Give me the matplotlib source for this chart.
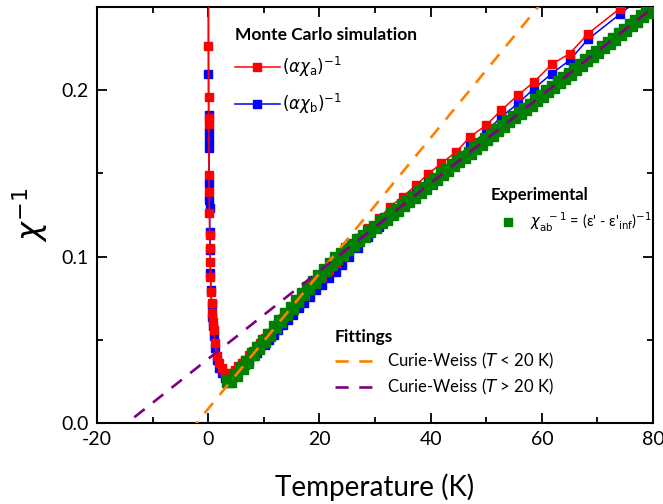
import matplotlib
matplotlib.use("Agg")
import matplotlib.pyplot as plt
import numpy as np
from matplotlib.ticker import MultipleLocator, FormatStrFormatter

plt.rcParams['font.family'] = ['Lato', 'DejaVu Sans']
plt.rcParams['mathtext.fontset'] = 'dejavusans'
plt.rcParams['axes.unicode_minus'] = False

# Monte Carlo temperatures (K), shared by both susceptibility components
t_mc = [0.02, 0.05, 0.07, 0.09, 0.11, 0.14, 0.17, 0.20, 0.25, 0.30, 0.35, 0.40,
        0.50, 0.60, 0.70, 0.85, 1.0, 1.2, 1.5, 1.9, 2.4, 3.0,
        3.6, 4.2, 4.8, 5.4, 6.0, 6.6, 7.3, 8.0, 8.7, 9.4, 10.2, 11.0, 11.8, 12.6,
        13.5, 14.4, 15.3, 16.3, 17.3, 18.3, 19.4, 20.5, 21.7, 22.9, 24.1, 25.4,
        26.9, 28.8, 30.7, 32.7, 35.0, 37.4, 39.5, 41.9, 44.6, 47.1, 50.0, 52.7,
        55.7, 58.6, 61.8, 65.0, 68.3, 74.0, 77.5]

inv_chi_a = [0.320, 0.2266, 0.196, 0.183, 0.1796, 0.149, 0.139, 0.126, 0.113, 0.105, 0.097, 0.0877,
             0.079, 0.072, 0.066, 0.061, 0.056, 0.048, 0.040, 0.036, 0.033, 0.030,
             0.028, 0.030, 0.032, 0.034, 0.036, 0.038, 0.041, 0.043, 0.046, 0.048, 0.051, 0.054, 0.057, 0.060,
             0.063, 0.066, 0.069, 0.073, 0.077, 0.080, 0.084, 0.088, 0.092, 0.096, 0.100, 0.105,
             0.111, 0.117, 0.123, 0.130, 0.136, 0.143, 0.1495, 0.156, 0.163, 0.172, 0.179, 0.188,
             0.197, 0.205, 0.2156, 0.222, 0.234, 0.249, 0.258]

inv_chi_b = [0.300, 0.210, 0.185, 0.175, 0.170, 0.165, 0.144, 0.134, 0.129, 0.115, 0.104, 0.090,
             0.080, 0.071, 0.064, 0.058, 0.052, 0.045, 0.038, 0.033, 0.030, 0.027,
             0.026, 0.027, 0.029, 0.031, 0.033, 0.035, 0.037, 0.040, 0.042, 0.045, 0.047, 0.050, 0.053, 0.056,
             0.059, 0.062, 0.065, 0.069, 0.072, 0.076, 0.080, 0.083, 0.087, 0.091, 0.095, 0.100,
             0.105, 0.112, 0.118, 0.125, 0.132, 0.139, 0.145, 0.152, 0.159, 0.167, 0.175, 0.184,
             0.192, 0.201, 0.210, 0.218, 0.2306, 0.2456, 0.255]

# dielectric data, chi_ab^-1 = (eps' - eps'_inf)^-1
t_exp = [3.6, 4, 5, 6, 7, 8, 9, 10, 11, 12, 13, 14, 15, 16, 17, 18, 19, 20,
         21, 22, 23, 24, 25, 26, 27, 28, 29, 30, 31, 32, 33, 34, 35, 36, 37, 38,
         39, 40, 41, 42, 43, 44, 45, 46, 47, 48, 49, 50, 51, 52, 53, 54, 55, 56,
         57, 58, 59, 60, 61, 62, 63, 64, 65, 66, 67, 68, 69, 70, 71, 72, 73, 74,
         75, 76, 77, 78, 79, 79.6]
inv_chi_exp = [0.025, 0.0255, 0.029, 0.0332, 0.0368, 0.0412, 0.0450, 0.0493, 0.0531, 0.0575, 0.0612, 0.0656,
               0.0694, 0.0735, 0.0776, 0.0812, 0.0850, 0.0885, 0.0920, 0.0955, 0.0990, 0.1018, 0.1046, 0.1070,
               0.1100, 0.1123, 0.1152, 0.1176, 0.1205, 0.1228, 0.1258, 0.1282, 0.1310, 0.1335, 0.1360, 0.1388,
               0.1414, 0.1442, 0.1466, 0.1495, 0.1520, 0.1548, 0.1572, 0.1600, 0.1625, 0.1653, 0.1678, 0.1706,
               0.1730, 0.1758, 0.1783, 0.1812, 0.1836, 0.1862, 0.1890, 0.1914, 0.1943, 0.1968, 0.1995, 0.2020,
               0.2048, 0.2073, 0.2100, 0.2126, 0.2152, 0.2180, 0.2205, 0.2232, 0.2257, 0.2285, 0.2310, 0.2338,
               0.2362, 0.2390, 0.2415, 0.2443, 0.2468, 0.2485]

# Curie-Weiss fits: chi^-1 = (T - theta) / C
theta_low, curie_low = -2.1, 245.7
theta_high, curie_high = -14.6, 378.8

fig = plt.figure(figsize=(6.63, 5.04), dpi=100)
ax = fig.add_axes([0.1463, 0.1607, 0.8387, 0.8254])

lb, = ax.plot(t_mc, inv_chi_b, '-s', color='#0000FF', lw=1.1, ms=6, zorder=2,
              label=r'$(\alpha\chi_{\rm b})^{-1}$')
la, = ax.plot(t_mc, inv_chi_a, '-s', color='#FF0000', lw=1.1, ms=6, zorder=3,
              label=r'$(\alpha\chi_{\rm a})^{-1}$')
le, = ax.plot(t_exp, inv_chi_exp, 's', color='#008000', ms=8, mec='#008000', zorder=4,
              label="$\\chi_{\\rm ab}^{\\ \\ -1}$ = (ε' - ε'$_{\\rm inf}$)$^{-1}$")

t_fit = np.array([-20.0, 80.0])
lo, = ax.plot(t_fit, (t_fit - theta_low) / curie_low, color='#FF8000', lw=1.9,
              dashes=(5, 4), zorder=5, label=r'Curie-Weiss ($T$ < 20 K)')
lp, = ax.plot(t_fit, (t_fit - theta_high) / curie_high, color='#800080', lw=1.9,
              dashes=(5, 4), zorder=5, label=r'Curie-Weiss ($T$ > 20 K)')

ax.set_xlim(-20, 80)
ax.set_ylim(0, 0.25)
ax.xaxis.set_major_locator(MultipleLocator(20))
ax.xaxis.set_minor_locator(MultipleLocator(10))
ax.yaxis.set_major_locator(MultipleLocator(0.1))
ax.yaxis.set_minor_locator(MultipleLocator(0.05))
ax.yaxis.set_major_formatter(FormatStrFormatter('%.1f'))
ax.tick_params(which='both', direction='in', top=True, right=True, width=1.3)
ax.tick_params(which='major', length=7, labelsize=14, pad=6)
ax.tick_params(which='minor', length=4)
for s in ax.spines.values():
    s.set_linewidth(1.5)

ax.set_xlabel('Temperature (K)', fontsize=20, labelpad=18)
ax.set_ylabel(r'$\chi^{-1}$', fontsize=23, labelpad=8)

common = dict(frameon=False, loc='upper left', borderpad=0, borderaxespad=0,
              alignment='left', numpoints=1,
              title_fontproperties={'weight': 'bold', 'size': 12.5})
leg1 = ax.legend(handles=[la, lb], title='Monte Carlo simulation', fontsize=12,
                 bbox_to_anchor=(0.248, 0.953), handlelength=2.7, labelspacing=0.75,
                 handletextpad=0.15, **common)
ax.add_artist(leg1)
leg2 = ax.legend(handles=[le], title='Experimental', fontsize=10.5, markerscale=0.75,
                 bbox_to_anchor=(0.707, 0.567), handlelength=2.4, handletextpad=0.3, **common)
leg2.get_title().set_fontsize(12)
ax.add_artist(leg2)
leg3 = ax.legend(handles=[lo, lp], title='Fittings', fontsize=12,
                 bbox_to_anchor=(0.428, 0.226), handlelength=2.6, labelspacing=0.35,
                 handletextpad=0.5, **common)

fig.savefig('out.png', dpi=100)
